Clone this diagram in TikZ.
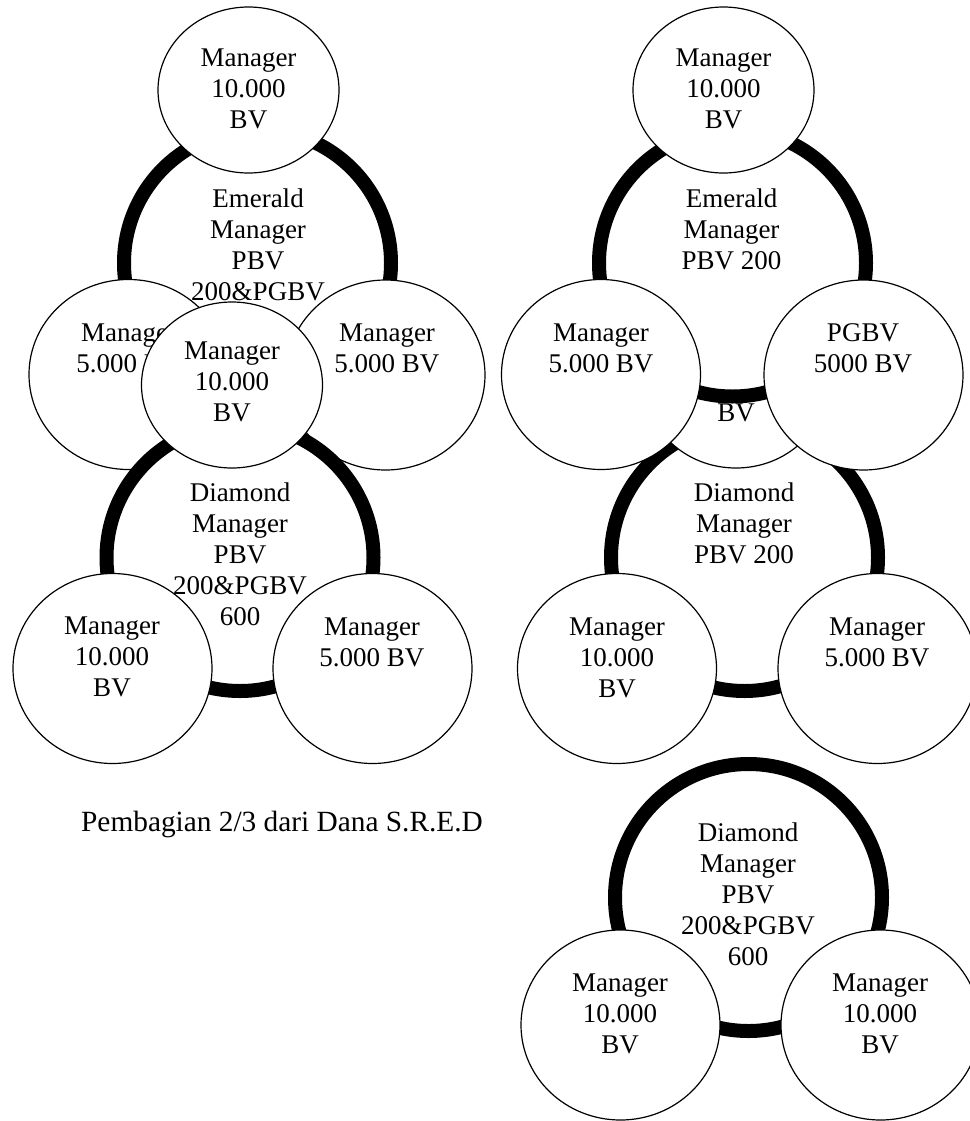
\documentclass[tikz,border=0pt]{standalone}
\usepackage{fontspec}
\setmainfont{Liberation Serif}
\usetikzlibrary{shapes.geometric}
\begin{document}
\begin{tikzpicture}[x=0.75pt,y=-0.75pt,
  ringc/.style={circle, draw=black, fill=white, line width=10.5pt, minimum size=200.25pt, inner sep=0pt},
  smallc/.style={ellipse, draw=black, fill=white, line width=0.9pt, minimum width=149.25pt, minimum height=142.5pt, inner sep=0pt},
  topc/.style={ellipse, draw=black, fill=white, line width=0.9pt, minimum width=135.75pt, minimum height=124.5pt, inner sep=0pt},
  txt/.style={font=\fontsize{20.25}{23.25}\selectfont, align=center, inner sep=0pt, anchor=north}]
\useasboundingbox (0,0) rectangle (970,1121);
\clip (0,0) rectangle (970,1121);
% ---------------- left group ----------------
\node[ringc] (E1) at (257.5,263) {};
\node[topc] (T1) at (248.5,90) {};
\node[txt] (T1t) at (248.5,44.3) {\strut Manager\\10.000\\BV};
\node[smallc] (L1) at (128.5,374.5) {};
\node[txt] (L1t) at (129,319.3) {\strut Manager\\5.000 BV};
\node[smallc] (R1) at (385.5,375) {};
\node[txt] (R1t) at (387,319.3) {\strut Manager\\5.000 BV};
\node[txt] (E1t) at (258,185.3) {\strut Emerald\\Manager\\PBV\\200\&PGBV\\600};
\node[ringc] (D1) at (240,557.5) {};
\node[topc] (C1) at (232,385) {};
\node[txt] (C1t) at (232,337.3) {\strut Manager\\10.000\\BV};
\node[smallc] (DL1) at (112.5,668.5) {};
\node[txt] (DL1t) at (112,612.3) {\strut Manager\\10.000\\BV};
\node[smallc] (DR1) at (372.5,668.5) {};
\node[txt] (DR1t) at (372,613.3) {\strut Manager\\5.000 BV};
\node[txt] (D1t) at (240,479.3) {\strut Diamond\\Manager\\PBV\\200\&PGBV\\600};
% ---------------- right group ----------------
\node[ringc] (D2) at (744.5,557.5) {};
\node[topc] (C2) at (736,385) {};
\node[txt] (C2t) at (736,337.3) {\strut Manager\\10.000\\BV};
\node[ringc] (E2) at (732.5,263) {};
\node[topc] (T2) at (723.5,90) {};
\node[txt] (T2t) at (723.5,44.3) {\strut Manager\\10.000\\BV};
\node[txt] (E2t) at (731.5,185.3) {\strut Emerald\\Manager\\PBV 200};
\node[smallc] (L2) at (601,374.5) {};
\node[txt] (L2t) at (601,319.3) {\strut Manager\\5.000 BV};
\node[smallc] (R2) at (863.5,375) {};
\node[txt] (R2t) at (863,319.3) {\strut PGBV\\5000 BV};
\node[smallc] (DL2) at (617,668.5) {};
\node[txt] (DL2t) at (617,613.3) {\strut Manager\\10.000\\BV};
\node[smallc] (DR2) at (877.5,668.5) {};
\node[txt] (DR2t) at (877,613.3) {\strut Manager\\5.000 BV};
\node[txt] (D2t) at (744,479.3) {\strut Diamond\\Manager\\PBV 200};
% ---------------- bottom group ----------------
\node[ringc] (D3) at (748.5,897.5) {};
\node[smallc] (DL3) at (620.5,1025) {};
\node[txt] (DL3t) at (620,969.3) {\strut Manager\\10.000\\BV};
\node[smallc] (DR3) at (880.5,1025) {};
\node[txt] (DR3t) at (880,969.3) {\strut Manager\\10.000\\BV};
\node[txt] (D3t) at (748,819.3) {\strut Diamond\\Manager\\PBV\\200\&PGBV\\600};
% ---------------- caption ----------------
\node[font=\fontsize{22}{25}\selectfont, inner sep=0pt, anchor=base] (cap) at (282,831) {Pembagian 2/3 dari Dana S.R.E.D};
\end{tikzpicture}
\end{document}
